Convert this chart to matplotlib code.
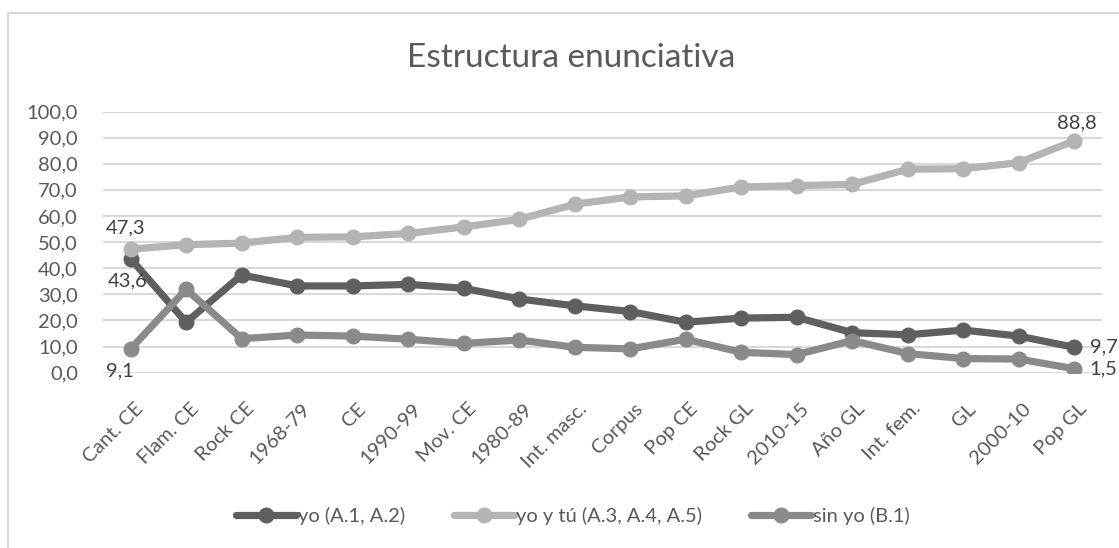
import matplotlib.pyplot as plt
from matplotlib.patches import Rectangle
from matplotlib.transforms import ScaledTranslation

plt.rcParams['font.family'] = ['Lato', 'DejaVu Sans']

categorias = ['Cant. CE', 'Flam. CE', 'Rock CE', '1968-79', 'CE', '1990-99', 'Mov. CE',
              '1980-89', 'Int. masc.', 'Corpus', 'Pop CE', 'Rock GL', '2010-15', 'Año GL',
              'Int. fem.', 'GL', '2000-10', 'Pop GL']

yo = [43.6, 19.3, 37.4, 33.2, 33.2, 33.8, 32.3, 28.2, 25.6, 23.4, 19.3, 20.9, 21.2,
      15.3, 14.5, 16.3, 14.0, 9.7]
yo_tu = [47.3, 49.0, 49.6, 51.8, 52.0, 53.3, 55.8, 58.7, 64.5, 67.3, 67.7, 71.1, 71.6,
         72.1, 77.9, 78.1, 80.4, 88.8]
sin_yo = [9.1, 31.9, 13.0, 14.4, 14.0, 12.8, 11.2, 12.5, 9.7, 9.1, 12.8, 7.8, 6.9,
          12.3, 7.3, 5.4, 5.2, 1.5]

nombres = ['yo (A.1, A.2)', 'yo y tú (A.3, A.4, A.5)', 'sin yo (B.1)']
colores = ['#5f5f5f', '#b4b4b4', '#8a8a8a']
texto = '#595959'

fig = plt.figure(figsize=(11.19, 5.48), dpi=100)
ax = fig.add_axes([0.092, 0.32, 0.8928, 0.4765])

x = list(range(len(categorias)))
for serie, nombre, color in zip([yo, yo_tu, sin_yo], nombres, colores):
    ax.plot(x, serie, color=color, lw=5.2, marker='o', ms=10.5, label=nombre,
            solid_capstyle='round')

ax.set_xlim(-0.5, len(categorias) - 0.5)
ax.set_ylim(0, 100)
ax.set_yticks(range(0, 101, 10))
ax.set_yticklabels([f'{v},0' for v in range(0, 101, 10)])
ax.set_xticks(x)
ax.set_xticklabels(categorias, rotation=45, ha='right', va='center',
                   rotation_mode='anchor')
ax.tick_params(axis='y', length=0, pad=18, labelsize=14.5, labelcolor=texto)
ax.tick_params(axis='x', length=0, pad=24, labelsize=14.5, labelcolor=texto)
desplaza = ScaledTranslation(7 / 72, 0, fig.dpi_scale_trans)
for lab in ax.get_xticklabels():
    lab.set_transform(lab.get_transform() + desplaza)
ax.grid(axis='y', color='#d9d9d9', lw=1.5)
ax.set_axisbelow(True)
for s in ax.spines.values():
    s.set_visible(False)

# etiquetas de datos
def fmt(v):
    return f'{v:.1f}'.replace('.', ',')

estilo = dict(textcoords='offset points', fontsize=14.5, color='#404040',
              annotation_clip=False)
ax.annotate(fmt(yo_tu[0]), (0, yo_tu[0]), xytext=(-4, 9), ha='center', va='bottom', **estilo)
ax.annotate(fmt(yo[0]), (0, yo[0]), xytext=(-2, -10), ha='center', va='top', **estilo)
ax.annotate(fmt(sin_yo[0]), (0, sin_yo[0]), xytext=(-8, -10), ha='center', va='top', **estilo)
ax.annotate(fmt(yo_tu[-1]), (17, yo_tu[-1]), xytext=(2, 7), ha='center', va='bottom', **estilo)
ax.annotate(fmt(yo[-1]), (17, yo[-1]), xytext=(11, 0), ha='left', va='center', **estilo)
ax.annotate(fmt(sin_yo[-1]), (17, sin_yo[-1]), xytext=(11, 0), ha='left', va='center', **estilo)

fig.text(0.51, 0.895, 'Estructura enunciativa', ha='center', va='center',
         fontsize=24, color=texto)

fig.legend(loc='center', bbox_to_anchor=(0.512, 0.058), ncol=3, frameon=False,
           fontsize=14.5, labelcolor=texto, handlelength=3.0, handletextpad=0.1,
           columnspacing=2.4)

# borde del área del gráfico
fig.patches.append(Rectangle((8 / 1119, -0.1), 1.2, 1 - 12.7 / 548 + 0.1,
                             transform=fig.transFigure, fill=False,
                             edgecolor='#d9d9d9', lw=1.5))

fig.savefig('out.png', dpi=100)
